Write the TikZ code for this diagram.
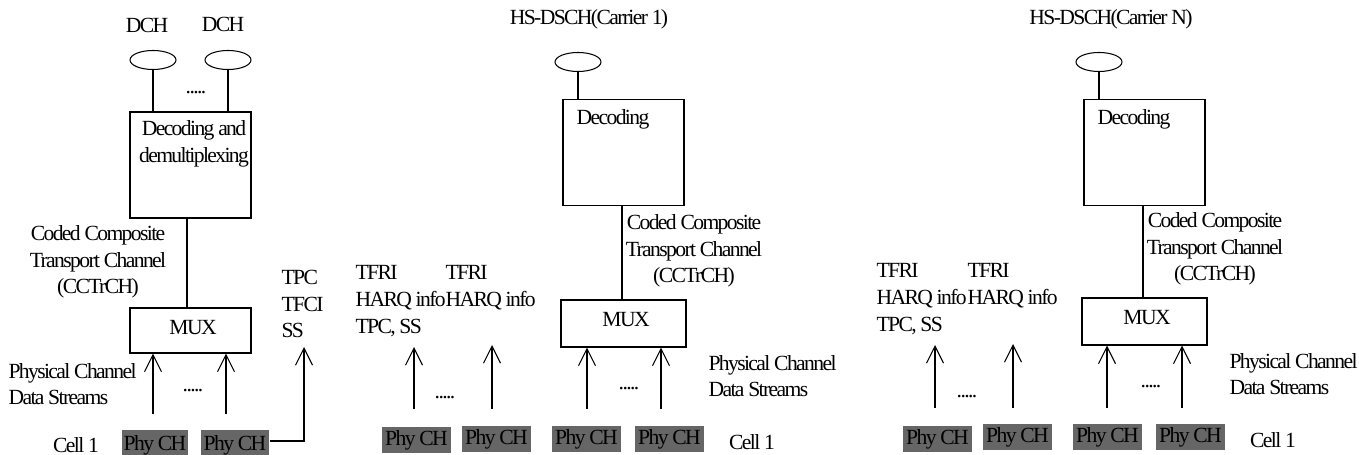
\documentclass[tikz,border=0pt]{standalone}
\usepackage{fontspec}
\setmainfont[LetterSpace=-7.5]{Liberation Serif}
\usetikzlibrary{arrows.meta,shapes.geometric}
\definecolor{phygray}{HTML}{666666}
\begin{document}
\begin{tikzpicture}[x=0.02cm, y=-0.02cm,
    line width=0.6pt,
    every node/.style={font=\fontsize{12.3}{15.2}\selectfont},
    stream/.style={-{Straight Barb[length=0.34cm,width=0.34cm]}},
    txt node/.style={inner sep=0pt, align=left, anchor=west},
    mid node/.style={inner sep=0pt, align=center},
    carrier node/.style={draw, ellipse, minimum width=0.92cm, minimum height=0.38cm, inner sep=0pt},
    dec node/.style={draw, minimum width=2.42cm, minimum height=2.12cm, inner sep=0pt},
    mux node/.style={draw, minimum width=2.5cm, minimum height=0.94cm, inner sep=0pt},
    phy node/.style={fill=phygray, minimum width=1.38cm, minimum height=0.52cm, inner sep=0pt}]

    \useasboundingbox (0,0) rectangle (1359,455);

    % first panel
    \node[mid node] at (147,25) (dch1) {DCH};
    \node[mid node] at (223,24) (dch2) {DCH};
    \node[carrier node] at (153,60) (c1) {};
    \node[carrier node] at (228,60) (c2) {};
    \node[dec node] at (190.5,165) (dec1) {};
    \node[mid node] at (194,144) (dect1) {Decoding and\\demultiplexing};
    \node[mid node] at (196,93) (dots1) {.....};
    \node[mid node] at (98,262) (cc1) {Coded Composite\\Transport Channel\\(CCTrCH)};
    \node[draw, minimum width=2.42cm, minimum height=0.9cm, inner sep=0pt] at (190.5,330.5) (mux1) {};
    \node[mid node] at (193,328) (muxt1) {MUX};
    \node[txt node] at (8,384) (pc1) {Physical Channel\\Data Streams};
    \node[mid node] at (193,391) (dots2) {.....};
    \node[txt node] at (281,304) (tpc) {TPC\\TFCI\\SS};
    \node[mid node] at (76,445) (cell1) {Cell 1};
    \node[phy node, minimum width=1.32cm, minimum height=0.6cm] at (155,445) (p1) {Phy CH};
    \node[phy node, minimum width=1.36cm, minimum height=0.6cm] at (235,445) (p2) {Phy CH};
    \coordinate (a1) at (153,414);
    \coordinate (a2) at (226,414);
    \coordinate (a3) at (304,347);
    \coordinate (a4) at (304,441);

    \draw (c1.south) -- (c1 |- dec1.north);
    \draw (c2.south) -- (c2 |- dec1.north);
    \draw (dec1.south -| 187,0) -- (mux1.north -| 187,0);
    \draw[stream] (a1) -- (a1 |- mux1.south);
    \draw[stream] (a2) -- (a2 |- mux1.south);
    \draw[stream] (p2.east |- a4) -- (a4) -- (a3);

    % second panel
    \node[mid node] at (589,19) (hs1) {HS-DSCH(Carrier 1)};
    \node[carrier node] at (578,62) (c3) {};
    \node[dec node] at (623.5,152.5) (dec2) {};
    \node[mid node] at (613,119) (dect2) {Decoding};
    \node[mid node] at (694,251) (cc2) {Coded Composite\\Transport Channel\\(CCTrCH)};
    \node[mux node] at (623.5,323.5) (mux2) {};
    \node[mid node] at (626,320) (muxt2) {MUX};
    \node[txt node] at (355,301) (tf1) {TFRI\\HARQ info\\TPC, SS};
    \node[txt node, anchor=north west] at (445,265) (tf2) {TFRI\\HARQ info};
    \node[txt node] at (708,376) (pc2) {Physical Channel\\Data Streams};
    \node[mid node] at (445,398) (dots3) {.....};
    \node[mid node] at (629,389) (dots4) {.....};
    \node[mid node] at (752,442) (cell2) {Cell 1};
    \node[phy node] at (416.5,440) (p3) {Phy CH};
    \node[phy node] at (496.5,439) (p4) {Phy CH};
    \node[phy node] at (586.5,439) (p5) {Phy CH};
    \node[phy node] at (669.5,439) (p6) {Phy CH};
    \coordinate (b1) at (414,409);
    \coordinate (b1t) at (414,347);
    \coordinate (b2) at (492,409);
    \coordinate (b2t) at (492,345);
    \coordinate (b3) at (587,409);
    \coordinate (b4) at (661,409);

    \draw (c3.south) -- (c3 |- dec2.north);
    \draw (dec2.south -| 622,0) -- (mux2.north -| 622,0);
    \draw[stream] (b1) -- (b1t);
    \draw[stream] (b2) -- (b2t);
    \draw[stream] (b3) -- (b3 |- mux2.south);
    \draw[stream] (b4) -- (b4 |- mux2.south);

    % third panel
    \node[mid node] at (1111,19) (hs2) {HS-DSCH(Carrier N)};
    \node[carrier node] at (1099,62) (c4) {};
    \node[dec node] at (1144.5,152.5) (dec3) {};
    \node[mid node] at (1134,119) (dect3) {Decoding};
    \node[mid node] at (1215,249) (cc3) {Coded Composite\\Transport Channel\\(CCTrCH)};
    \node[mux node] at (1144.5,321.5) (mux3) {};
    \node[mid node] at (1147,318) (muxt3) {MUX};
    \node[txt node] at (876,299) (tf3) {TFRI\\HARQ info\\TPC, SS};
    \node[txt node, anchor=north west] at (967,263) (tf4) {TFRI\\HARQ info};
    \node[txt node] at (1229,374) (pc3) {Physical Channel\\Data Streams};
    \node[mid node] at (967,397) (dots5) {.....};
    \node[mid node] at (1151,387) (dots6) {.....};
    \node[mid node] at (1273,440) (cell3) {Cell 1};
    \node[phy node] at (937.5,439) (p7) {Phy CH};
    \node[phy node] at (1017.5,437) (p8) {Phy CH};
    \node[phy node] at (1107.5,437) (p9) {Phy CH};
    \node[phy node] at (1190.5,437) (p10) {Phy CH};
    \coordinate (d1) at (935,408);
    \coordinate (d1t) at (935,345);
    \coordinate (d2) at (1013,408);
    \coordinate (d2t) at (1013,344);
    \coordinate (d3) at (1107,408);
    \coordinate (d4) at (1182,408);

    \draw (c4.south) -- (c4 |- dec3.north);
    \draw (dec3.south -| 1143,0) -- (mux3.north -| 1143,0);
    \draw[stream] (d1) -- (d1t);
    \draw[stream] (d2) -- (d2t);
    \draw[stream] (d3) -- (d3 |- mux3.south);
    \draw[stream] (d4) -- (d4 |- mux3.south);
\end{tikzpicture}
\end{document}
